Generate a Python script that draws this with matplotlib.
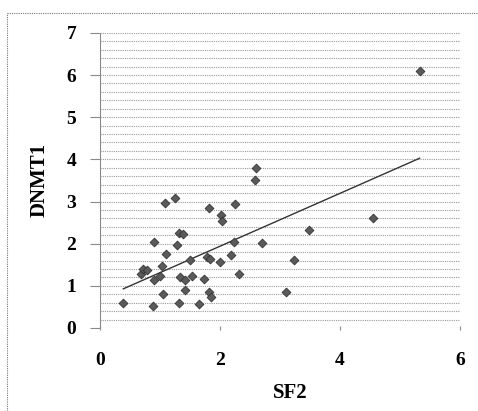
import numpy as np
import matplotlib as mpl
mpl.use('Agg')
import matplotlib.pyplot as plt
from matplotlib.lines import Line2D
from matplotlib.ticker import MultipleLocator

# values
sf2 = [0.39, 0.68, 0.72, 0.79, 0.89, 0.90, 0.91, 1.00, 1.04, 1.06, 1.08,
       1.10, 1.25, 1.29, 1.32, 1.33, 1.32, 1.39, 1.42, 1.42, 1.50, 1.53,
       1.65, 1.74, 1.78, 1.84, 1.82, 1.82, 1.86, 2.00, 2.02, 2.04, 2.18,
       2.25, 2.24, 2.32, 2.59, 2.61, 2.71, 3.11, 3.23, 3.49, 4.56, 5.33]
dnmt1 = [0.60, 1.28, 1.40, 1.38, 0.53, 1.14, 2.05, 1.24, 1.46, 0.80, 2.97,
         1.76, 3.09, 1.96, 0.59, 1.22, 2.25, 2.23, 1.14, 0.90, 1.61, 1.24,
         0.56, 1.17, 1.68, 1.64, 2.85, 0.86, 0.73, 1.57, 2.69, 2.53, 1.74,
         2.95, 2.03, 1.29, 3.51, 3.80, 2.02, 0.85, 1.62, 2.33, 2.60, 6.10]
x_ticks = [0, 2, 4, 6]
y_ticks = [0, 1, 2, 3, 4, 5, 6, 7]

plt.rcParams['font.family'] = ['Liberation Serif', 'DejaVu Serif']

fig = plt.figure(figsize=(4.78, 4.11), dpi=100)
ax = fig.add_axes([0.209, 0.202, 0.753, 0.718])

# grid: dotted, major every 1, minor every 0.2
ax.yaxis.set_minor_locator(MultipleLocator(0.2))
ax.grid(True, axis='y', which='both', color='#9a9a9a', linestyle=(0, (1, 1)), linewidth=0.8)
ax.set_axisbelow(True)

ax.scatter(sf2, dnmt1, marker='D', s=20, color='#5a5a5a', edgecolors='#333333',
           linewidths=0.6, zorder=3)

# linear trend line over the data range
x = np.array(sf2); y = np.array(dnmt1)
k, b = np.polyfit(x, y, 1)
xx = np.array([x.min(), x.max()])
ax.plot(xx, k * xx + b, color='#333333', linewidth=1.0, zorder=2)

ax.set_xlim(0, 6)
ax.set_ylim(0, 7)
ax.set_xticks(x_ticks)
ax.set_yticks(y_ticks)

for side in ['top', 'right', 'bottom']:
    ax.spines[side].set_visible(False)
ax.spines['left'].set_color('#8a8a8a')
ax.spines['left'].set_linestyle((0, (1, 1)))
ax.spines['left'].set_linewidth(0.8)

ax.tick_params(axis='y', which='major', length=7, width=0.8, color='#8a8a8a',
               pad=10, labelsize=14)
ax.tick_params(axis='y', which='minor', length=0)
ax.tick_params(axis='x', which='major', length=3, width=0.8, color='#8a8a8a',
               direction='inout', pad=16, labelsize=14)
for lab in ax.get_xticklabels() + ax.get_yticklabels():
    lab.set_fontweight('bold')

ax.set_xlabel('SF2', fontsize=15, fontweight='bold', labelpad=4)
ax.set_ylabel('DNMT1', fontsize=15, fontweight='bold', labelpad=12)
ax.xaxis.set_label_coords(0.528, -0.185)

# dotted outer frame (top and left edges)
fig.add_artist(Line2D([0.015, 1.0], [0.968, 0.968], transform=fig.transFigure,
                      color='#777777', linestyle=(0, (1, 1)), linewidth=0.8))
fig.add_artist(Line2D([0.015, 0.015], [0.0, 0.968], transform=fig.transFigure,
                      color='#777777', linestyle=(0, (1, 1)), linewidth=0.8))

fig.savefig('out.png', dpi=100)
